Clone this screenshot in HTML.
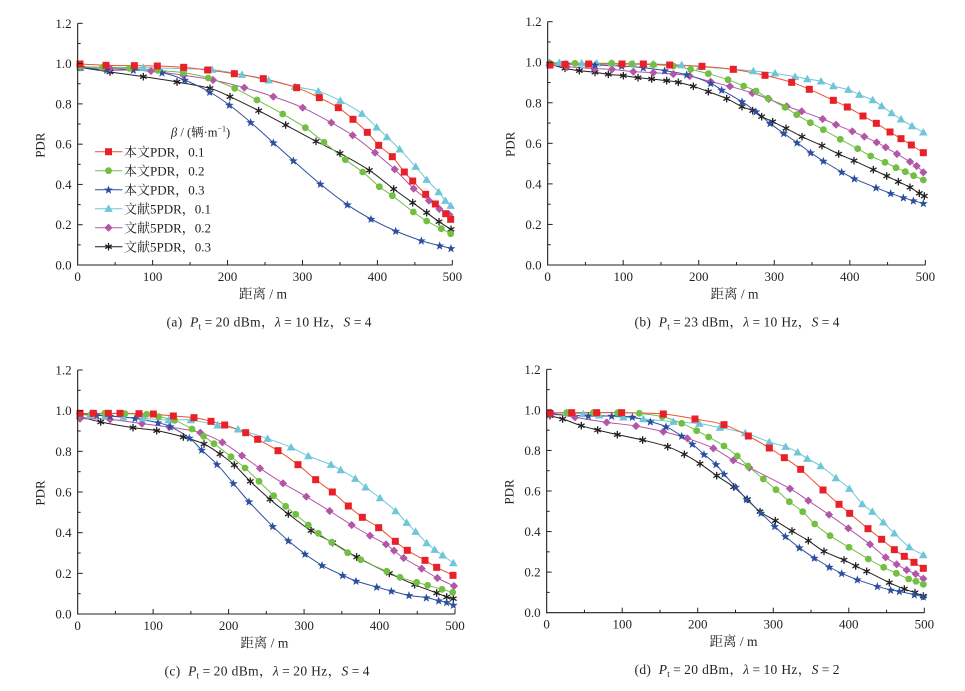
<!DOCTYPE html>
<html><head><meta charset="utf-8">
<style>
html,body{margin:0;padding:0;background:#fff;}
svg{display:block;}
text{font-family:"Liberation Serif","Noto Serif CJK SC",serif;fill:#231f20;}
</style></head>
<body>
<svg id="s" width="965" height="691" viewBox="0 0 965 691" xmlns="http://www.w3.org/2000/svg">
<rect width="965" height="691" fill="#fff"/>
</svg>
<script>
const COL={r:'#e8202a',g:'#72bf44',b:'#2c4f9f',c:'#6ec6d8',p:'#b256a8',k:'#231f20'};
const LCOL={r:'#f0502c',g:'#72bf44',b:'#2c4f9f',c:'#6ec6d8',p:'#b256a8',k:'#231f20'};
const P=[
{o:[30,10],ax:{x0:143,x5:1267,y0:765,y12:40},cap:['(a)','20','10','4'],capc:269,legend:true,
s:{
r:[[150,162],[228,166],[313,167],[382,168],[461,172],[533,180],[613,191],[700,206],[800,233],[868,263],[925,293],[969,328],[1012,367],[1046,406],[1087,440],[1123,486],[1148,513],[1187,553],[1216,582],[1247,611],[1262,628]],
g:[[150,170],[218,172],[298,175],[383,181],[460,188],[535,204],[614,235],[681,270],[758,312],[826,353],[882,397],[946,449],[998,486],[1048,530],[1087,557],[1150,606],[1190,633],[1234,656],[1262,671]],
b:[[152,172],[230,180],[310,180],[396,188],[464,210],[539,246],[598,285],[662,337],[730,398],[790,452],[871,522],[952,584],[1023,627],[1097,663],[1174,692],[1229,707],[1263,715]],
c:[[152,172],[220,172],[340,173],[460,176],[546,179],[636,194],[716,211],[795,230],[865,244],[931,272],[996,311],[1040,352],[1071,381],[1109,418],[1157,470],[1190,509],[1226,546],[1246,572],[1262,587]],
p:[[155,172],[240,175],[363,183],[461,196],[549,210],[643,233],[730,260],[818,293],[904,338],[968,376],[1035,428],[1094,478],[1151,536],[1197,572],[1228,597],[1258,614]],
k:[[150,172],[240,186],[340,200],[441,216],[540,235],[600,260],[686,302],[767,345],[858,394],[930,430],[1018,481],[1091,537],[1148,578],[1190,608],[1227,635],[1263,658]]
}},
{o:[500,10],ax:{x0:143,x5:1276,y0:765,y12:35},cap:['(b)','23','10','4'],capc:737,
s:{
c:[[148,158],[178,158],[245,160],[290,160],[335,160],[400,161],[460,162],[545,165],[600,170],[700,178],[760,183],[825,190],[885,200],[922,207],[963,214],[1000,228],[1045,239],[1078,254],[1118,270],[1145,288],[1175,309],[1203,328],[1236,348],[1270,367]],
r:[[150,165],[195,163],[266,162],[366,162],[430,162],[509,165],[606,169],[700,178],[795,196],[875,217],[928,238],[1000,271],[1042,291],[1089,318],[1129,340],[1170,366],[1203,386],[1234,405],[1270,428]],
g:[[150,160],[225,160],[335,160],[395,162],[460,164],[520,168],[572,178],[625,191],[684,209],[731,228],[768,243],[804,265],[855,292],[890,314],[931,338],[970,359],[1021,388],[1073,416],[1112,438],[1155,457],[1188,473],[1216,485],[1241,497],[1270,510]],
p:[[150,165],[200,170],[283,176],[336,178],[400,185],[460,188],[520,192],[569,198],[632,215],[690,229],[757,249],[806,267],[860,289],[905,304],[968,327],[1008,344],[1057,364],[1093,380],[1130,397],[1157,412],[1191,432],[1230,455],[1250,468],[1270,487]],
b:[[150,160],[198,162],[285,165],[365,168],[430,173],[494,182],[560,194],[632,220],[665,240],[726,275],[768,305],[810,340],[851,370],[891,398],[932,428],[970,453],[1025,486],[1063,506],[1128,533],[1172,550],[1210,563],[1240,572],[1270,580]],
k:[[150,163],[195,175],[238,182],[285,187],[325,193],[370,197],[414,203],[455,207],[500,212],[535,217],[580,229],[625,245],[680,266],[726,290],[758,302],[785,320],[818,335],[858,355],[906,380],[966,407],[1016,432],[1062,452],[1120,479],[1160,498],[1195,515],[1230,532],[1258,550],[1273,558]]
}},
{o:[30,360],ax:{x0:143,x5:1275,y0:762,y12:30},cap:['(c)','20','20','4'],capc:267,
s:{
r:[[150,160],[190,160],[235,160],[270,160],[327,161],[370,162],[430,168],[492,173],[543,184],[584,195],[647,218],[683,238],[744,272],[804,314],[857,359],[907,396],[955,438],[997,472],[1046,503],[1096,544],[1132,571],[1185,601],[1220,622],[1269,646]],
g:[[150,163],[185,161],[224,160],[285,161],[350,163],[386,170],[434,181],[486,207],[521,229],[552,251],[603,290],[645,324],[687,364],[731,407],[767,439],[797,463],[835,495],[865,520],[905,547],[953,578],[992,599],[1070,634],[1110,652],[1160,667],[1193,676],[1236,688],[1268,697]],
b:[[150,163],[200,166],[240,168],[315,175],[384,188],[421,200],[478,234],[515,270],[561,313],[610,370],[657,425],[728,499],[775,542],[825,582],[876,616],[938,646],[978,663],[1040,681],[1084,693],[1137,706],[1189,713],[1226,722],[1250,727],[1270,735]],
c:[[150,163],[180,165],[225,168],[280,172],[340,175],[416,180],[483,180],[563,196],[624,208],[713,236],[783,262],[835,288],[903,314],[932,330],[976,356],[1007,382],[1050,414],[1097,453],[1130,488],[1157,515],[1190,549],[1214,569],[1238,586],[1270,609]],
p:[[150,176],[240,178],[336,191],[418,201],[511,218],[577,247],[636,287],[690,325],[759,370],[829,410],[899,453],[965,495],[1020,527],[1068,553],[1092,572],[1121,594],[1175,626],[1222,654],[1272,678]],
k:[[150,170],[212,186],[309,203],[380,212],[460,231],[522,252],[570,282],[613,315],[661,364],[720,418],[775,462],[843,512],[908,548],[980,591],[1078,640],[1154,674],[1220,699],[1250,711],[1270,716]]
}},
{o:[500,360],ax:{x0:140,x5:1273,y0:758,y12:28},cap:['(d)','20','10','2'],capc:737,
s:{
r:[[150,160],[215,158],[290,158],[365,158],[490,162],[585,177],[672,194],[745,228],[808,264],[853,293],[902,328],[969,390],[1017,433],[1049,460],[1104,506],[1145,538],[1183,569],[1213,589],[1242,607],[1270,625]],
c:[[150,158],[200,158],[250,162],[298,166],[370,172],[430,177],[520,185],[598,191],[660,203],[736,219],[808,246],[857,260],[893,277],[922,296],[962,318],[1008,354],[1048,386],[1087,432],[1117,455],[1150,487],[1183,520],[1228,561],[1270,585]],
g:[[150,160],[200,158],[280,158],[353,158],[418,160],[487,170],[545,190],[590,212],[626,231],[672,258],[712,288],[744,318],[790,357],[828,389],[868,425],[908,455],[944,492],[990,527],[1047,562],[1105,597],[1151,622],[1189,640],[1226,657],[1248,664],[1270,673]],
p:[[155,160],[225,172],[320,187],[408,198],[490,215],[562,235],[640,265],[700,301],[748,323],[870,386],[925,422],[987,464],[1045,505],[1110,553],[1157,592],[1190,613],[1220,630],[1247,642],[1270,656]],
b:[[150,163],[265,168],[335,168],[397,171],[451,185],[498,200],[545,228],[577,252],[612,283],[648,313],[672,342],[707,381],[740,418],[783,459],[824,499],[856,529],[898,563],[943,594],[988,621],[1025,640],[1072,659],[1132,679],[1172,690],[1198,694],[1243,704],[1270,710]],
k:[[150,167],[188,177],[244,197],[293,210],[352,224],[428,240],[503,260],[553,283],[600,311],[650,347],[701,381],[742,418],[780,455],[826,482],[876,513],[925,542],[972,574],[1032,600],[1067,618],[1100,634],[1168,668],[1213,687],[1245,698],[1270,708]]
}}
];
function f(n){return n.toFixed(2);}
function smooth(pts){
  let d='M'+f(pts[0][0])+','+f(pts[0][1]);
  for(let i=0;i<pts.length-1;i++){
    const p0=pts[i-1]||pts[i],p1=pts[i],p2=pts[i+1],p3=pts[i+2]||p2;
    const t=1/6;
    const c1=[p1[0]+(p2[0]-p0[0])*t,p1[1]+(p2[1]-p0[1])*t];
    const c2=[p2[0]-(p3[0]-p1[0])*t,p2[1]-(p3[1]-p1[1])*t];
    d+='C'+f(c1[0])+','+f(c1[1])+' '+f(c2[0])+','+f(c2[1])+' '+f(p2[0])+','+f(p2[1]);
  }
  return d;
}
function marker(k,x,y){
  const c=COL[k];
  if(k==='r') return `<rect x="${f(x-3.5)}" y="${f(y-3.5)}" width="7" height="7" fill="${c}"/>`;
  if(k==='g') return `<circle cx="${f(x)}" cy="${f(y)}" r="3.4" fill="${c}"/>`;
  if(k==='c') return `<polygon points="${f(x)},${f(y-4.3)} ${f(x+4.3)},${f(y+3.2)} ${f(x-4.3)},${f(y+3.2)}" fill="${c}"/>`;
  if(k==='p') return `<polygon points="${f(x)},${f(y-4.1)} ${f(x+4.1)},${f(y)} ${f(x)},${f(y+4.1)} ${f(x-4.1)},${f(y)}" fill="${c}"/>`;
  if(k==='b'){
    let pts=[];
    for(let i=0;i<10;i++){const a=-Math.PI/2+i*Math.PI/5;const r=i%2?1.9:4.6;pts.push(f(x+r*Math.cos(a))+','+f(y+0.3+r*Math.sin(a)));}
    return `<polygon points="${pts.join(' ')}" fill="${c}"/>`;
  }
  if(k==='k'){
    let s='';const r=3.8;
    [90,30,150].forEach(a=>{const rad=a*Math.PI/180;const dx=r*Math.cos(rad),dy=r*Math.sin(rad);
      s+=`<line x1="${f(x-dx)}" y1="${f(y-dy)}" x2="${f(x+dx)}" y2="${f(y+dy)}" stroke="${c}" stroke-width="1.3"/>`;});
    return s;
  }
}
let out='';
P.forEach(pl=>{
  const ox=pl.o[0],oy=pl.o[1],a=pl.ax;
  const X0=ox+a.x0/3,X5=ox+a.x5/3,Y0=oy+a.y0/3,Y12=oy+a.y12/3;
  const sx=v=>X0+(X5-X0)*v/500, sy=v=>Y0-(Y0-Y12)*v/1.2;
  const order=['k','p','c','b','g','r'];
  order.forEach(k=>{
    const pts=pl.s[k].map(p=>[ox+p[0]/3,oy+p[1]/3]);
    out+=`<path d="${smooth(pts)}" fill="none" stroke="${LCOL[k]}" stroke-width="1"/>`;
  });
  order.forEach(k=>{
    pl.s[k].forEach(p=>{out+=marker(k,ox+p[0]/3,oy+p[1]/3);});
  });
  out+=`<line x1="${f(X0)}" y1="${f(Y12)}" x2="${f(X0)}" y2="${f(Y0+0.5)}" stroke="#231f20" stroke-width="1.1"/>`;
  out+=`<line x1="${f(X0-0.5)}" y1="${f(Y0)}" x2="${f(X5)}" y2="${f(Y0)}" stroke="#231f20" stroke-width="1.1"/>`;
  for(let i=0;i<=12;i++){
    const y=sy(i/10);const len=(i%2===0)?5:3;
    if(i>0) out+=`<line x1="${f(X0)}" y1="${f(y)}" x2="${f(X0+len)}" y2="${f(y)}" stroke="#231f20" stroke-width="1"/>`;
    if(i%2===0) out+=`<text x="${f(X0-6)}" y="${f(y+4.5)}" font-size="13" text-anchor="end">${(i/10).toFixed(1)}</text>`;
  }
  for(let i=0;i<=10;i++){
    const x=sx(i*50);const len=(i%2===0)?5:3;
    if(i>0) out+=`<line x1="${f(x)}" y1="${f(Y0)}" x2="${f(x)}" y2="${f(Y0-len)}" stroke="#231f20" stroke-width="1"/>`;
    if(i%2===0) out+=`<text x="${f(x)}" y="${f(Y0+16)}" font-size="13" text-anchor="middle">${i*50}</text>`;
  }
  const cx=(X0+X5)/2;
  out+=`<text transform="translate(${f(X0-33)},${f((Y0+Y12)/2+1)}) rotate(-90)" font-size="13" text-anchor="middle">PDR</text>`;
  out+=`<text x="${f(cx-2)}" y="${f(Y0+33.5)}" font-size="13.5" text-anchor="middle">距离 / m</text>`;
  const c=pl.cap;
  out+=`<text x="${f(pl.capc)}" y="${f(Y0+61.5)}" font-size="13.5" text-anchor="middle" textLength="205" lengthAdjust="spacing">${c[0]}&#160;&#160;<tspan font-style="italic">P</tspan><tspan font-size="9" dy="3">t</tspan><tspan dy="-3">&#8201;=&#8201;${c[1]} dBm，</tspan><tspan font-style="italic">λ</tspan>&#8201;=&#8201;${c[2]} Hz，<tspan font-style="italic">S</tspan>&#8201;=&#8201;${c[3]}</text>`;
  if(pl.legend){
    out+=`<text x="171" y="136.5" font-size="12.5"><tspan font-style="italic">β</tspan> / (辆·m<tspan font-size="8" dy="-5">−1</tspan><tspan dy="5">)</tspan></text>`;
    const labels=[['r','本文PDR，0.1'],['g','本文PDR，0.2'],['b','本文PDR，0.3'],['c','文献5PDR，0.1'],['p','文献5PDR，0.2'],['k','文献5PDR，0.3']];
    labels.forEach((l,i)=>{
      const y=151.7+i*19;
      out+=`<line x1="95" y1="${f(y)}" x2="122.5" y2="${f(y)}" stroke="${LCOL[l[0]]}" stroke-width="1"/>`;
      out+=marker(l[0],108.5,y);
      out+=`<text x="124" y="${f(y+4.6)}" font-size="13">${l[1]}</text>`;
    });
  }
});
document.getElementById('s').insertAdjacentHTML('beforeend',out);
</script>
</body></html>
